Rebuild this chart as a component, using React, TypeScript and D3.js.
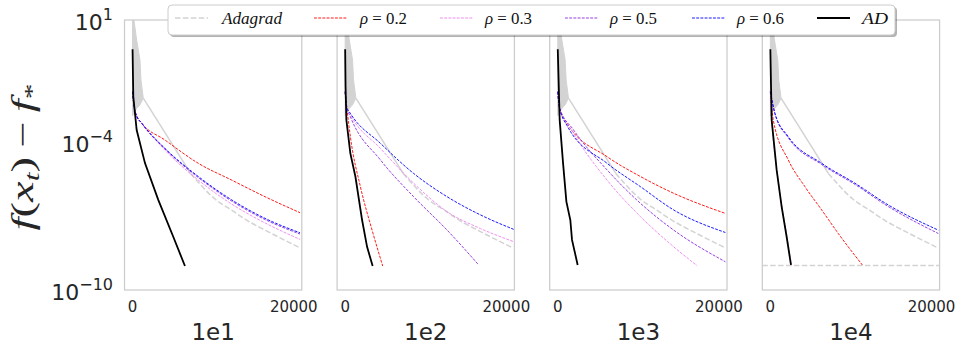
import React, { useEffect } from 'react';
import * as d3 from 'd3';

// panel titles (x labels) and ticks
const panelLabels = ['1e1', '1e2', '1e3', '1e4'];
const xTicks = [0, 20000];
const yTicks = [1e1, 1e-4, 1e-10];
const yTickExp = ['1', '\u22124', '\u221210'];

// Adagrad does not depend on the panel parameter: same run everywhere
const adagradBandIter = [0, 170, 510, 920, 1040, 1330];
const adagradBandHigh = [15.8, 10, 1.53, 0.234, 0.036, 6.6e-3];
const adagradBandLow = [1.26e-3, 1.6e-3, 2.5e-3, 3.5e-3, 4.2e-3, 6.6e-3];
const adagradJumpIter = [1330, 7200];
const adagradJump = [6.6e-3, 5.6e-6];
const adagradTailIter = [7200, 10260, 12300, 14390, 16440, 20800];
const adagradTail = [5.6e-6, 5.0e-7, 1.78e-7, 6.3e-8, 2.75e-8, 5.2e-9];

// horizontal reference line, only drawn in the last panel
const floorLevel = [null, null, null, 1e-9];

// rho = 0.2
const rho02Iter = [
  [0, 200, 500, 1130, 4020, 8160, 12300, 16440, 20780],
  [0, 200, 645, 1890, 3340, 4660],
  [0, 200, 1150, 6120, 10260, 14390, 20800],
  [0, 360, 2220, 4290, 6370, 8430, 11410],
];
const rho02 = [
  [1.2e-2, 2.8e-3, 1.26e-3, 6.3e-4, 1.29e-4, 1.45e-5, 3.0e-6, 6.3e-7, 1.41e-7],
  [1.2e-2, 2.8e-3, 1.78e-4, 1.62e-6, 2.75e-8, 9.5e-10],
  [1.2e-2, 2.8e-3, 6.2e-4, 2.7e-5, 4.2e-6, 8.7e-7, 1.32e-7],
  [1.2e-2, 8.5e-4, 2.0e-5, 1.62e-6, 1.82e-7, 2.0e-8, 1.05e-9],
];

// rho = 0.3
const rho03Iter = [
  [0, 200, 500, 1130, 4020, 8160, 12300, 16440, 20780],
  [0, 200, 645, 4370, 8500, 12650, 16780, 20920],
  [0, 200, 1970, 6120, 10260, 14390, 17290],
  [0, 180, 800, 1430, 2060, 2620],
];
const rho03 = [
  [1.2e-2, 2.8e-3, 1.26e-3, 6.3e-4, 5.0e-5, 3.0e-6, 3.16e-7, 5.4e-8, 1.15e-8],
  [1.2e-2, 2.8e-3, 1.41e-3, 5.9e-5, 2.24e-6, 1.55e-7, 3.2e-8, 9.3e-9],
  [1.2e-2, 2.8e-3, 2.4e-4, 3.0e-6, 9.8e-8, 5.75e-9, 9.8e-10],
  [1.2e-2, 8.5e-4, 7.8e-6, 2.5e-7, 1.48e-8, 1.0e-9],
];

// rho = 0.5
const rho05Iter = [
  [0, 200, 500, 1130, 4020, 8160, 12300, 16440, 20780],
  [0, 200, 645, 4370, 8500, 12650, 16570],
  [0, 200, 1970, 6120, 10260, 14390, 20800],
  [0, 570, 2220, 6370, 10500, 14640, 20840],
];
const rho05 = [
  [1.2e-2, 2.8e-3, 1.26e-3, 6.3e-4, 5.6e-5, 3.8e-6, 4.2e-7, 7.4e-8, 1.9e-8],
  [1.2e-2, 2.8e-3, 1.15e-3, 2.0e-5, 6.3e-7, 2.75e-8, 1.05e-9],
  [1.2e-2, 2.8e-3, 3.3e-4, 7.8e-6, 3.4e-7, 2.75e-8, 1.41e-9],
  [1.2e-2, 1.5e-3, 1.6e-4, 1.3e-5, 2.0e-6, 2.5e-7, 2.0e-8],
];

// rho = 0.6
const rho06Iter = [
  [0, 200, 500, 1130, 4020, 8160, 12300, 16440, 20780],
  [0, 200, 645, 4370, 8500, 12650, 16780, 20920],
  [0, 200, 1150, 6120, 10260, 14390, 20800],
  [0, 570, 2220, 6370, 10500, 14640, 20840],
];
const rho06 = [
  [1.2e-2, 2.8e-3, 1.26e-3, 6.3e-4, 5.9e-5, 4.2e-6, 4.7e-7, 8.3e-8, 2.14e-8],
  [1.2e-2, 2.8e-3, 1.58e-3, 9.5e-5, 5.6e-6, 6.3e-7, 1.15e-7, 2.95e-8],
  [1.2e-2, 2.8e-3, 5.0e-4, 1.45e-5, 1.62e-6, 1.82e-7, 2.2e-8],
  [1.2e-2, 1.58e-3, 1.78e-4, 1.45e-5, 2.24e-6, 2.9e-7, 2.75e-8],
];

// AD
const adIter = [
  [0, 90, 510, 1540, 3190, 5050, 6500],
  [0, 50, 150, 645, 1270, 2100, 2720, 3410],
  [0, 236, 660, 1070, 1560, 1770, 2470],
  [0, 160, 780, 1400, 2020, 2560],
];
const ad = [
  [0.646, 7.6e-3, 3.3e-4, 1.48e-5, 4.7e-7, 1.48e-8, 9.5e-10],
  [0.646, 1.9e-2, 8.5e-4, 3.7e-5, 4.2e-6, 7.1e-8, 5.75e-9, 9.5e-10],
  [0.646, 8.5e-4, 1.45e-5, 4.0e-7, 7.1e-8, 1.1e-8, 1.05e-9],
  [0.646, 8.5e-4, 7.8e-6, 2.5e-7, 1.48e-8, 1.05e-9],
];

const W = 971;
const H = 349;
const panelLeft = 124.5;
const panelStep = 212.6;
const panelW = 177.3;
const top = 20;
const bottom = 290;
const tickColor = '#262626';

const rhoSeries = [
  { name: '\u03c1 = 0.2', iter: rho02Iter, val: rho02, color: '#ff0000' },
  { name: '\u03c1 = 0.3', iter: rho03Iter, val: rho03, color: '#ee82ee' },
  { name: '\u03c1 = 0.5', iter: rho05Iter, val: rho05, color: '#8a2be2' },
  { name: '\u03c1 = 0.6', iter: rho06Iter, val: rho06, color: '#0000ff' },
];

const pairs = (xs: number[], ys: number[]) => xs.map((x, i) => [x, ys[i]] as [number, number]);

export default function App() {
  useEffect(() => {
    document.body.style.margin = '0';
  }, []);

  const y = d3.scaleLog().domain([1e-10, 10]).range([bottom, top]);

  const panels = panelLabels.map((label, p) => {
    const left = panelLeft + p * panelStep;
    const x = d3.scaleLinear().domain([-1000, 21000]).range([left, left + panelW]);
    const smooth = d3.line<[number, number]>().x(d => x(d[0])).y(d => y(d[1])).curve(d3.curveMonotoneX);
    const straight = d3.line<[number, number]>().x(d => x(d[0])).y(d => y(d[1]));
    const band = d3.area<number>()
      .x((_, i) => x(adagradBandIter[i]))
      .y0((_, i) => y(adagradBandLow[i]))
      .y1((_, i) => y(adagradBandHigh[i]));
    const clipId = `clip${p}`;
    return (
      <g key={label}>
        <clipPath id={clipId}>
          <rect x={left} y={top} width={panelW} height={bottom - top} />
        </clipPath>
        <g clipPath={`url(#${clipId})`}>
          <path d={band(adagradBandIter) || ''} fill="#d3d3d3" stroke="#d3d3d3" strokeWidth={1} />
          <path d={straight(pairs(adagradJumpIter, adagradJump)) || ''} fill="none" stroke="#d3d3d3" strokeWidth={1.5} />
          <path d={smooth(pairs(adagradTailIter, adagradTail)) || ''} fill="none" stroke="#d3d3d3" strokeWidth={1.5} strokeDasharray="5.5,2.4" />
          {floorLevel[p] !== null && (
            <line x1={left} x2={left + panelW} y1={y(floorLevel[p] as number)} y2={y(floorLevel[p] as number)}
              stroke="#d3d3d3" strokeWidth={1.5} strokeDasharray="5.5,2.4" />
          )}
          {rhoSeries.map(s => (
            <path key={s.name} d={smooth(pairs(s.iter[p], s.val[p])) || ''} fill="none"
              stroke={s.color} strokeWidth={0.9} strokeDasharray="2.9,1.3" />
          ))}
          <path d={straight(pairs(adIter[p], ad[p])) || ''} fill="none" stroke="#000" strokeWidth={1.8} />
        </g>
        <rect x={left} y={top} width={panelW} height={bottom - top} fill="none" stroke="#cccccc" strokeWidth={1.25} />
        {xTicks.map(t => (
          <text key={t} x={x(t)} y={312} textAnchor="middle" fontSize={15}
            fontFamily="DejaVu Sans" fill={tickColor}>{t}</text>
        ))}
        <text x={left + panelW / 2} y={340} textAnchor="middle" fontSize={23}
          fontFamily="DejaVu Sans" fill={tickColor}>{label}</text>
      </g>
    );
  });

  const legendItems = [
    { label: 'Adagrad', color: '#d3d3d3', width: 1.5, dash: '5.5,2.4', lx: 175, tx: 222, tl: 60 },
    ...rhoSeries.map((s, i) => ({
      label: s.name, color: s.color, width: 0.9, dash: '2.9,1.3',
      lx: [314, 440, 565, 692][i], tx: [360, 485, 610, 737][i], tl: 47,
    })),
    { label: 'AD', color: '#000', width: 1.8, dash: undefined, lx: 817, tx: 862, tl: 26 },
  ];

  return (
    <svg width={W} height={H} style={{ display: 'block', background: '#fff' }}>
      {panels}
      {yTicks.map((t, i) => (
        <text key={t} x={113} y={y(t) + 9.5} textAnchor="end" fontFamily="DejaVu Sans" fill={tickColor}>
          <tspan fontSize={22}>10</tspan>
          <tspan fontSize={16} dy={-10}>{yTickExp[i]}</tspan>
        </text>
      ))}
      <text transform="translate(33,157) rotate(-90)" textAnchor="middle" fontFamily="Liberation Serif"
        fontStyle="italic" fontSize={31} fill={tickColor} textLength={147} lengthAdjust="spacingAndGlyphs">
        <tspan>f</tspan><tspan fontStyle="normal">(</tspan><tspan>x</tspan>
        <tspan fontSize={21} dy={6}>t</tspan>
        <tspan fontStyle="normal" dy={-6}>){'\u2009\u2212\u2009'}</tspan><tspan>f</tspan>
        <tspan fontSize={21} dy={6} fontStyle="normal">*</tspan>
      </text>
      <g>
        <rect x={170} y={7} width={727} height={30} rx={4} fill="#000" opacity={0.3} />
        <rect x={168} y={5} width={727} height={30} rx={4} fill="#fff" stroke="#cccccc" strokeWidth={1} />
        {legendItems.map(it => (
          <g key={it.label}>
            <line x1={it.lx} x2={it.lx + 33} y1={18} y2={18} stroke={it.color}
              strokeWidth={it.width} strokeDasharray={it.dash} />
            <text x={it.tx} y={24} fontFamily="Liberation Serif" fontSize={17} fill="#111"
              textLength={it.tl} lengthAdjust="spacingAndGlyphs">
              {it.label.startsWith('\u03c1')
                ? <><tspan fontStyle="italic">{'\u03c1'}</tspan><tspan>{it.label.slice(1)}</tspan></>
                : <tspan fontStyle="italic">{it.label}</tspan>}
            </text>
          </g>
        ))}
      </g>
    </svg>
  );
}
